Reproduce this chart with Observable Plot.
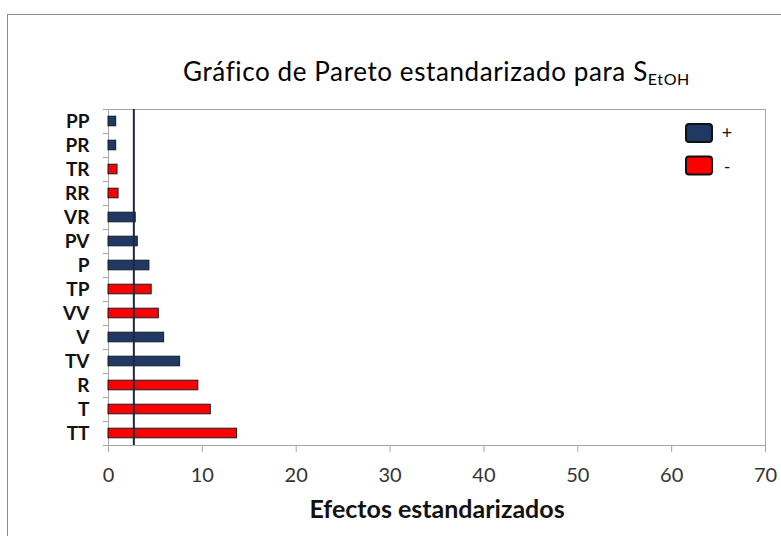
<!DOCTYPE html>
<html>
<head>
<meta charset="utf-8">
<script src="https://cdn.jsdelivr.net/npm/d3@7"></script>
<script src="https://cdn.jsdelivr.net/npm/@observablehq/plot@0.6"></script>
<style>
  html, body { margin: 0; padding: 0; background: #fff; }
  #wrap { position: relative; width: 781px; height: 536px; overflow: hidden; font-family: Lato, sans-serif; }
  #border { position: absolute; left: 7px; top: 14px; width: 820px; height: 620px; border: 1.5px solid #8c8c8c; pointer-events: none; }
  #wrap svg { position: absolute; left: 0; top: 0; }
</style>
</head>
<body>
<div id="wrap"><div id="border"></div></div>
<script>
const factors = ["PP","PR","TR","RR","VR","PV","P","TP","VV","V","TV","R","T","TT"];
const effects = [0.82,0.82,0.96,1.07,2.9,3.12,4.36,4.6,5.36,5.93,7.63,9.57,10.9,13.7];
const signs   = ["+","+","-","-","+","+","+","-","-","+","+","-","-","-"];
const criticalValue = 2.7;
const xTicks = [0,10,20,30,40,50,60,70];
const signDomain = ["+","-"];
const signColors = ["#1f3864","#ff0000"];
const titleMain = "Gráfico de Pareto estandarizado para S";
const titleSub = "EtOH";
const xLabel = "Efectos estandarizados";

const data = factors.map((f, i) => ({factor: f, effect: effects[i], sign: signs[i]}));

const gray = "#a6a6a6";
const chart = Plot.plot({
  width: 781, height: 536,
  marginLeft: 108, marginRight: 16, marginTop: 109, marginBottom: 91,
  style: {fontFamily: "Lato, sans-serif", background: "transparent", color: "#111"},
  x: {domain: [0, 70]},
  y: {domain: factors, paddingInner: 0.6, paddingOuter: 0.3, round: false},
  color: {domain: signDomain, range: signColors},
  marks: [
    Plot.frame({stroke: gray}),
    Plot.ruleY(factors, {y: d => d, dy: -12, x1: -0.55, x2: 0, stroke: gray}),
    Plot.ruleY(factors.slice(-1), {y: d => d, dy: 12, x1: -0.55, x2: 0, stroke: gray}),
    Plot.axisY({tickSize: 0, tickPadding: 19, fontSize: 19, fontWeight: "bold", fill: "#111", label: null}),
    Plot.axisX({ticks: xTicks, tickSize: 7, tickFormat: () => "", stroke: gray, label: null}),
    Plot.axisX({ticks: xTicks, tickSize: 0, tickPadding: 22, fontSize: 20, fill: "#333", label: null}),
    Plot.barX(data, {y: "factor", x: "effect", fill: "sign", stroke: "#161b26", strokeWidth: 1}),
    Plot.ruleX([criticalValue], {stroke: "#1a2740", strokeWidth: 2}),
    Plot.text([xLabel], {text: d => d, frameAnchor: "bottom", lineAnchor: "middle", dy: 64, fontSize: 25, fontWeight: "bold", fill: "#111"})
  ]
});

const svg = d3.select(chart);
const color = chart.scale("color");
const t = svg.append("text")
  .attr("x", 436.5).attr("y", 81)
  .attr("text-anchor", "middle")
  .attr("font-size", 26).attr("letter-spacing", "0.6px").attr("fill", "#000");
t.append("tspan").text(titleMain);
t.append("tspan").attr("font-size", 16).attr("dy", 4).text(titleSub);

const leg = svg.append("g");
signDomain.forEach((s, i) => {
  leg.append("rect")
    .attr("x", 686).attr("y", 124 + i * 32.5)
    .attr("width", 26).attr("height", 18).attr("rx", 3)
    .attr("fill", color.apply(s)).attr("stroke", "#111").attr("stroke-width", 2);
  leg.append("text")
    .attr("x", 727).attr("y", 133 + i * 34).attr("dy", "0.35em")
    .attr("font-size", 18).attr("fill", "#111").text(s);
});

document.getElementById("wrap").appendChild(chart);
</script>
</body>
</html>
